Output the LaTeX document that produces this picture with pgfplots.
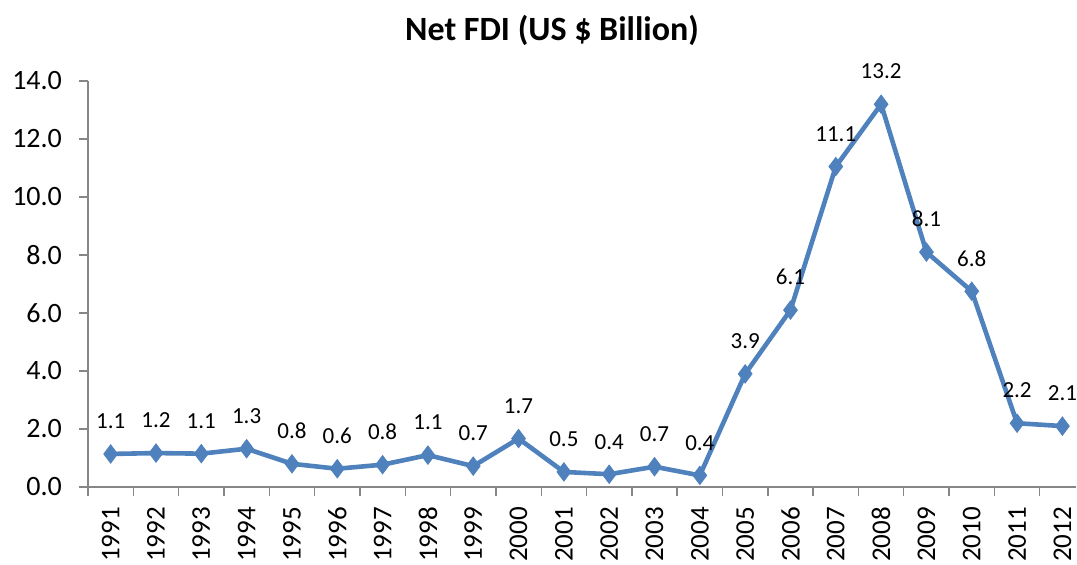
\documentclass[border=0pt]{standalone}
\usepackage{pgfplots}
\pgfplotsset{compat=1.18}
\usepackage{fontspec}
\setmainfont{Carlito}
\definecolor{lineblue}{HTML}{4F81BD}
\definecolor{axgray}{HTML}{868686}
\begin{document}
\begin{tikzpicture}
\begin{axis}[
  scale only axis,
  width=494pt, height=203pt,
  xmin=-0.5, xmax=21.3,
  ymin=0, ymax=14,
  axis x line=bottom, axis y line=left,
  axis line style={-, axgray, line width=0.7pt},
  xtick={0,...,21},
  xticklabels={1991,1992,1993,1994,1995,1996,1997,1998,1999,2000,2001,2002,2003,2004,2005,2006,2007,2008,2009,2010,2011,2012},
  x tick label style={rotate=90, anchor=east, font=\fontsize{13.5}{16}\selectfont},
  xticklabel shift=2pt,
  major x tick style={draw=none},
  minor xtick={-0.5,0.5,...,21.5},
  minor x tick style={axgray, line width=0.7pt},
  ytick={0,2,...,14},
  y tick label style={font=\fontsize{14}{16}\selectfont},
  yticklabel shift=5pt,
  yticklabel style={/pgf/number format/.cd, fixed, fixed zerofill, precision=1, assume math mode=true},
  y tick style={axgray, line width=0.7pt},
  tick align=outside,
  major tick length=4.5pt, minor tick length=4.5pt,
  title={\bfseries Net FDI (US \$ Billion)},
  title style={font=\fontsize{17}{19}\selectfont, yshift=8pt, xshift=-15pt},
  clip=false,
  nodes near coords,
  point meta=explicit symbolic,
  nodes near coords style={font=\fontsize{11.5}{13}\selectfont, black, anchor=south, yshift=9pt},
]
\addplot[lineblue, line width=2.3pt, mark=diamond*, mark size=4.6pt, mark options={fill=lineblue, draw=lineblue, line width=0.4pt}]
coordinates {
(0,1.14) [1.1]
(1,1.17) [1.2]
(2,1.15) [1.1]
(3,1.32) [1.3]
(4,0.80) [0.8]
(5,0.63) [0.6]
(6,0.77) [0.8]
(7,1.10) [1.1]
(8,0.72) [0.7]
(9,1.67) [1.7]
(10,0.52) [0.5]
(11,0.44) [0.4]
(12,0.70) [0.7]
(13,0.40) [0.4]
(14,3.90) [3.9]
(15,6.10) [6.1]
(16,11.05) [11.1]
(17,13.20) [13.2]
(18,8.10) [8.1]
(19,6.75) [6.8]
(20,2.20) [2.2]
(21,2.10) [2.1]
};
\end{axis}
\pgfresetboundingbox
\path (current axis.south west) ++(-44pt,-38.5pt) rectangle ++(538.5pt,282pt);
\end{tikzpicture}
\end{document}
